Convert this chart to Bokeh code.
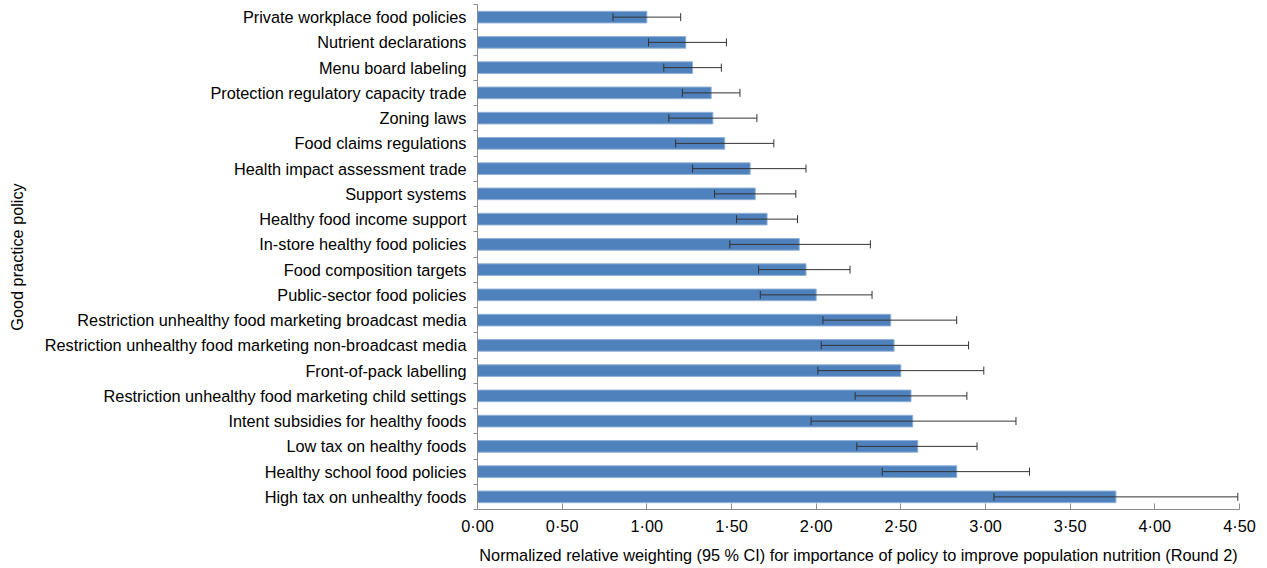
from bokeh.plotting import figure
from bokeh.models import ColumnDataSource, FixedTicker, Whisker, TeeHead, Range1d
from bokeh.embed import file_html
from bokeh.resources import INLINE

# Categories listed from top of chart to bottom
policies = [
    "Private workplace food policies",
    "Nutrient declarations",
    "Menu board labeling",
    "Protection regulatory capacity trade",
    "Zoning laws",
    "Food claims regulations",
    "Health impact assessment trade",
    "Support systems",
    "Healthy food income support",
    "In-store healthy food policies",
    "Food composition targets",
    "Public-sector food policies",
    "Restriction unhealthy food marketing broadcast media",
    "Restriction unhealthy food marketing non-broadcast media",
    "Front-of-pack labelling",
    "Restriction unhealthy food marketing child settings",
    "Intent subsidies for healthy foods",
    "Low tax on healthy foods",
    "Healthy school food policies",
    "High tax on unhealthy foods",
]
weights = [1.00, 1.23, 1.27, 1.38, 1.39, 1.46, 1.61, 1.64, 1.71, 1.90,
           1.94, 2.00, 2.44, 2.46, 2.50, 2.56, 2.57, 2.60, 2.83, 3.77]
ci_low = [0.80, 1.01, 1.10, 1.21, 1.13, 1.17, 1.27, 1.40, 1.53, 1.49,
          1.66, 1.67, 2.04, 2.03, 2.01, 2.23, 1.97, 2.24, 2.39, 3.05]
ci_high = [1.20, 1.47, 1.44, 1.55, 1.65, 1.75, 1.94, 1.88, 1.89, 2.32,
           2.20, 2.33, 2.83, 2.90, 2.99, 2.89, 3.18, 2.95, 3.26, 4.49]
x_ticks = [0.0, 0.5, 1.0, 1.5, 2.0, 2.5, 3.0, 3.5, 4.0, 4.5]
x_tick_labels = ["0·00", "0·50", "1·00", "1·50", "2·00", "2·50", "3·00", "3·50", "4·00", "4·50"]

n = len(policies)
ypos = [n - 1 - i for i in range(n)]  # top category gets highest position

src = ColumnDataSource(dict(y=ypos, w=weights, lo=ci_low, hi=ci_high, name=policies))

FONT = "Liberation Sans"
FS = "16.3px"

p = figure(width=1267, height=568, output_backend="svg", toolbar_location=None,
           x_range=Range1d(0, 4.5), y_range=Range1d(-0.5, n - 0.5),
           min_border_left=477, min_border_right=28, min_border_top=4, min_border_bottom=59)
p.outline_line_color = None
p.xgrid.grid_line_color = None
p.ygrid.grid_line_color = None
p.background_fill_color = "white"

p.hbar(y="y", right="w", left=0, height=0.46, source=src,
       fill_color="#4F81BD", line_color="#8fb0d8", line_width=1)

whisk = Whisker(base="y", lower="lo", upper="hi", dimension="width", source=src,
                line_color="#333333", line_width=1, level="overlay",
                lower_head=TeeHead(size=8, line_color="#333333", line_width=1),
                upper_head=TeeHead(size=8, line_color="#333333", line_width=1))
p.add_layout(whisk)

# x axis
p.xaxis.ticker = FixedTicker(ticks=x_ticks)
p.xaxis.major_label_overrides = {t: l for t, l in zip(x_ticks, x_tick_labels)}
p.xaxis.major_tick_in = 6
p.xaxis.major_tick_out = 0
p.xaxis.minor_tick_line_color = None
p.xaxis.axis_line_color = "#8c8c8c"
p.xaxis.major_tick_line_color = "#8c8c8c"
p.xaxis.major_label_text_font = FONT
p.xaxis.major_label_text_font_size = FS
p.xaxis.major_label_text_color = "black"
p.xaxis.major_label_standoff = 7
p.xaxis.axis_label = "Normalized relative weighting (95 % CI) for importance of policy to improve population nutrition (Round 2)"
p.xaxis.axis_label_text_font = FONT
p.xaxis.axis_label_text_font_size = FS
p.xaxis.axis_label_text_font_style = "normal"
p.xaxis.axis_label_text_color = "black"
p.xaxis.axis_label_standoff = 8

# y axis: labels at category centres, short ticks at category boundaries
p.yaxis.ticker = FixedTicker(ticks=ypos, minor_ticks=[k - 0.5 for k in range(n + 1)])
p.yaxis.major_label_overrides = {y: name for y, name in zip(ypos, policies)}
p.yaxis.major_tick_in = 0
p.yaxis.major_tick_out = 0
p.yaxis.minor_tick_in = 0
p.yaxis.minor_tick_out = 4
p.yaxis.minor_tick_line_color = "#8c8c8c"
p.yaxis.axis_line_color = "#8c8c8c"
p.yaxis.major_label_text_font = FONT
p.yaxis.major_label_text_font_size = FS
p.yaxis.major_label_text_color = "black"
p.yaxis.major_label_standoff = 7
p.yaxis.axis_label = "Good practice policy"
p.yaxis.axis_label_text_font = FONT
p.yaxis.axis_label_text_font_size = FS
p.yaxis.axis_label_text_font_style = "normal"
p.yaxis.axis_label_text_color = "black"
p.yaxis.axis_label_standoff = 16

open("out.html", "w").write(file_html(p, INLINE))
